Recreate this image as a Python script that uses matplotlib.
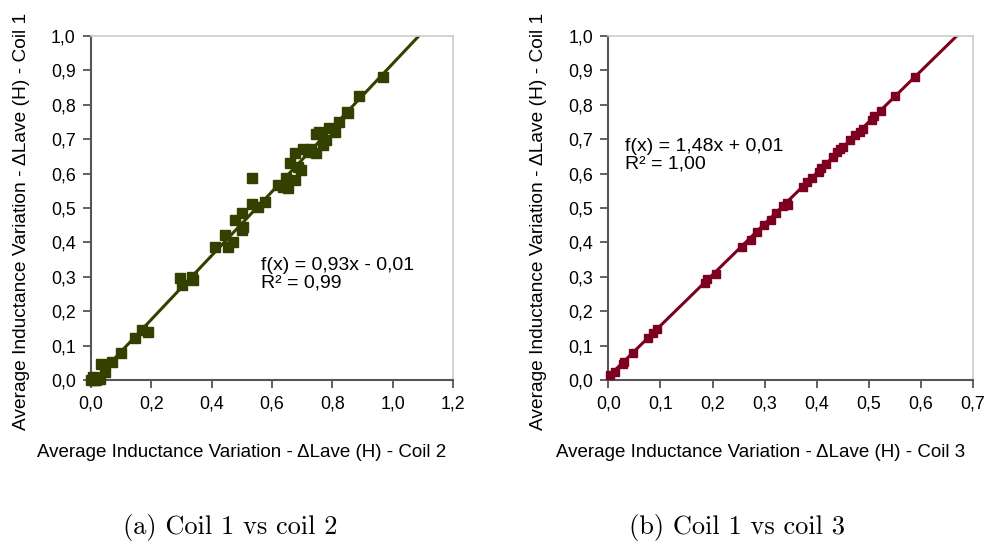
import numpy as np
import matplotlib.pyplot as plt
from matplotlib.ticker import FuncFormatter, MultipleLocator

# coil 2 (x) vs coil 1 (y)
c2_x = [0.000, 0.008, 0.015, 0.022, 0.030, 0.010, 0.032, 0.048, 0.070, 0.098, 0.147, 0.169, 0.188,
        0.296, 0.301, 0.334, 0.337, 0.411, 0.444, 0.453, 0.471, 0.477, 0.499, 0.504, 0.500,
        0.532, 0.532, 0.554, 0.576, 0.620, 0.636, 0.647, 0.653, 0.675, 0.658, 0.675, 0.686,
        0.697, 0.702, 0.719, 0.730, 0.746, 0.746, 0.757, 0.768, 0.779, 0.790, 0.807, 0.823,
        0.851, 0.848, 0.889, 0.969]
c2_y = [0.000, 0.010, 0.000, 0.005, 0.002, 0.000, 0.048, 0.024, 0.053, 0.079, 0.121, 0.145, 0.140,
        0.296, 0.276, 0.300, 0.290, 0.388, 0.421, 0.388, 0.402, 0.465, 0.486, 0.446, 0.435,
        0.588, 0.513, 0.504, 0.518, 0.567, 0.562, 0.586, 0.557, 0.581, 0.630, 0.659, 0.620,
        0.610, 0.673, 0.664, 0.673, 0.659, 0.715, 0.720, 0.683, 0.698, 0.732, 0.722, 0.751,
        0.775, 0.780, 0.826, 0.882]

# coil 3 (x) vs coil 1 (y)
c3_x = [0.003, 0.013, 0.028, 0.030, 0.048, 0.077, 0.086, 0.094, 0.186, 0.190, 0.207, 0.256,
        0.273, 0.285, 0.299, 0.312, 0.322, 0.335, 0.344, 0.345, 0.373, 0.381, 0.391, 0.405,
        0.409, 0.418, 0.432, 0.439, 0.445, 0.450, 0.464, 0.474, 0.483, 0.489, 0.506, 0.510,
        0.524, 0.551, 0.588]
c3_y = [0.015, 0.024, 0.048, 0.053, 0.078, 0.121, 0.136, 0.147, 0.281, 0.293, 0.307, 0.388,
        0.407, 0.431, 0.451, 0.465, 0.486, 0.506, 0.514, 0.510, 0.562, 0.576, 0.586, 0.606,
        0.615, 0.628, 0.649, 0.664, 0.673, 0.677, 0.698, 0.712, 0.722, 0.729, 0.756, 0.767,
        0.783, 0.826, 0.880]

fit2 = [0.93, -0.01]
fit3 = [1.48, 0.01]
eq2 = ['f(x) = 0,93x - 0,01', 'R² = 0,99']
eq3 = ['f(x) = 1,48x + 0,01', 'R² = 1,00']

col2 = '#334000'
col3 = '#7d0020'

plt.rcParams['font.family'] = ['Liberation Sans', 'DejaVu Sans']

fig = plt.figure(figsize=(9.99, 5.46), dpi=100)
ax1 = fig.add_axes([0.0911, 0.304, 0.3625, 0.630])
ax2 = fig.add_axes([0.609, 0.304, 0.3648, 0.630])

comma = FuncFormatter(lambda v, p: ('%.1f' % v).replace('.', ','))


def style(ax, xmax, xstep):
    ax.set_xlim(0, xmax)
    ax.set_ylim(0, 1.0)
    ax.xaxis.set_major_locator(MultipleLocator(xstep))
    ax.yaxis.set_major_locator(MultipleLocator(0.1))
    ax.xaxis.set_major_formatter(comma)
    ax.yaxis.set_major_formatter(comma)
    ax.tick_params(direction='out', length=6, width=1.3, color='#555555',
                   labelsize=12.8, pad=5)
    for s in ['left', 'bottom']:
        ax.spines[s].set_color('#555555')
        ax.spines[s].set_linewidth(1.5)
    for s in ['top', 'right']:
        ax.spines[s].set_color('#cccccc')
        ax.spines[s].set_linewidth(1.2)


def panel(ax, x, y, fit, x_end, col, ms, eq, eq_pos, xlab, ylab):
    xs = np.linspace(0, x_end, 50)
    ax.plot(xs, fit[0] * xs + fit[1], color=col, lw=2.2, zorder=2)
    ax.plot(x, y, 's', color=col, ms=ms, zorder=3, clip_on=False)
    ax.text(eq_pos[0], eq_pos[1], '\n'.join(eq), fontsize=14, va='top', ha='left',
            linespacing=1.05)
    ax.set_xlabel(xlab, fontsize=13.5)
    ax.set_ylabel(ylab, fontsize=13.8)


style(ax1, 1.2, 0.2)
style(ax2, 0.7, 0.1)

panel(ax1, c2_x, c2_y, fit2, 1.086, col2, 6.5, eq2, (0.564, 0.357),
      'Average Inductance Variation - ΔLave (H) - Coil 2',
      'Average Inductance Variation - ΔLave (H) - Coil 1')
panel(ax2, c3_x, c3_y, fit3, 0.669, col3, 6, eq3, (0.032, 0.705),
      'Average Inductance Variation - ΔLave (H) - Coil 3',
      'Average Inductance Variation - ΔLave (H) - Coil 1')

ax1.xaxis.set_label_coords(0.416, -0.185)
ax2.xaxis.set_label_coords(0.417, -0.185)
ax1.yaxis.set_label_coords(-0.168, 0.46)
ax2.yaxis.set_label_coords(-0.168, 0.46)

fig.text(0.230, 0.022, '(a) Coil 1 vs coil 2', family='cmr10', fontsize=19, ha='center')
fig.text(0.738, 0.022, '(b) Coil 1 vs coil 3', family='cmr10', fontsize=19, ha='center')

fig.savefig('out.png', dpi=100)
